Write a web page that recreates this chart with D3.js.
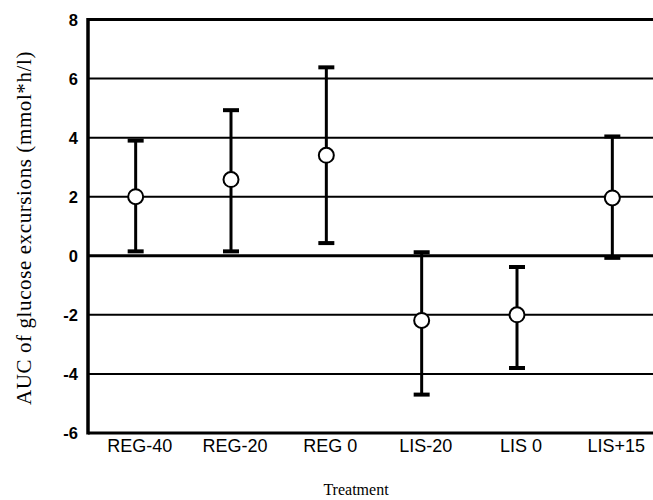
<!DOCTYPE html>
<html>
<head>
<meta charset="utf-8">
<script src="https://cdn.jsdelivr.net/npm/d3@7"></script>
<style>
  body { margin: 0; background: #fff; }
</style>
</head>
<body>
<div id="chart"></div>
<script>
// treatments and AUC values
var treatments = ['REG-40', 'REG-20', 'REG 0', 'LIS-20', 'LIS 0', 'LIS+15'];
var means = [2.0, 2.58, 3.4, -2.19, -2.0, 1.96];
var upper = [3.9, 4.93, 6.38, 0.12, -0.38, 4.04];
var lower = [0.15, 0.15, 0.43, -4.7, -3.8, -0.07];
var yTicks = [8, 6, 4, 2, 0, -2, -4, -6];

var width = 653, height = 500;
var margin = {top: 19.5, right: -7, bottom: 67, left: 88};

var svg = d3.select("#chart")
    .append("svg")
    .attr("width", width)
    .attr("height", height);

var x = d3.scaleBand()
    .domain(treatments)
    .range([margin.left, width - margin.right]);

var y = d3.scaleLinear()
    .domain([-6, 8])
    .range([height - margin.bottom, margin.top]);

// gridlines
svg.append("g")
    .selectAll("line")
    .data(yTicks)
    .enter()
    .append("line")
    .attr("x1", margin.left)
    .attr("x2", width)
    .attr("y1", function(d) { return y(d); })
    .attr("y2", function(d) { return y(d); })
    .style("stroke", "#000")
    .style("stroke-width", function(d) { return (d == 0 || d == 8 || d == -6) ? 3 : 2; });

// left border
svg.append("line")
    .attr("x1", margin.left)
    .attr("x2", margin.left)
    .attr("y1", y(8) - 1.5)
    .attr("y2", y(-6) + 1.5)
    .style("stroke", "#000")
    .style("stroke-width", 3.5);

// tick labels
svg.append("g")
    .selectAll("text")
    .data(yTicks)
    .enter()
    .append("text")
    .attr("x", 78)
    .attr("y", function(d) { return y(d) + 6; })
    .attr("text-anchor", "end")
    .attr("font-family", "Liberation Sans, Arial, sans-serif")
    .attr("font-weight", "bold")
    .style("font-size", "16.5px")
    .text(function(d) { return d; });

// category labels
svg.append("g")
    .selectAll("text")
    .data(treatments)
    .enter()
    .append("text")
    .attr("x", function(d) { return x(d) + x.bandwidth() / 2 + 4; })
    .attr("y", 452)
    .attr("text-anchor", "middle")
    .attr("font-family", "Liberation Sans, Arial, sans-serif")
    .style("font-size", "18px")
    .text(function(d) { return d; });

// axis titles
svg.append("text")
    .attr("x", 356)
    .attr("y", 495)
    .attr("text-anchor", "middle")
    .attr("font-family", "Liberation Serif, Times New Roman, serif")
    .style("font-size", "16px")
    .text("Treatment");

svg.append("text")
    .attr("transform", "translate(31,228) rotate(-90)")
    .attr("text-anchor", "middle")
    .attr("font-family", "Liberation Serif, Times New Roman, serif")
    .style("font-size", "21px")
    .style("letter-spacing", "0.6px")
    .text("AUC of glucose excursions (mmol*h/l)");

// error bars
var bars = svg.append("g")
    .selectAll("g")
    .data(treatments)
    .enter()
    .append("g");

var cx = function(d) { return x(d) + x.bandwidth() / 2; };

bars.append("line")
    .attr("x1", cx)
    .attr("x2", cx)
    .attr("y1", function(d, i) { return y(upper[i]); })
    .attr("y2", function(d, i) { return y(lower[i]); })
    .style("stroke", "#000")
    .style("stroke-width", 3);

bars.append("line")
    .attr("x1", function(d) { return cx(d) - 8; })
    .attr("x2", function(d) { return cx(d) + 8; })
    .attr("y1", function(d, i) { return y(upper[i]); })
    .attr("y2", function(d, i) { return y(upper[i]); })
    .style("stroke", "#000")
    .style("stroke-width", 4);

bars.append("line")
    .attr("x1", function(d) { return cx(d) - 8; })
    .attr("x2", function(d) { return cx(d) + 8; })
    .attr("y1", function(d, i) { return y(lower[i]); })
    .attr("y2", function(d, i) { return y(lower[i]); })
    .style("stroke", "#000")
    .style("stroke-width", 4);

bars.append("circle")
    .attr("cx", cx)
    .attr("cy", function(d, i) { return y(means[i]); })
    .attr("r", 7.5)
    .style("fill", "#fff")
    .style("stroke", "#000")
    .style("stroke-width", 2);
</script>
</body>
</html>
